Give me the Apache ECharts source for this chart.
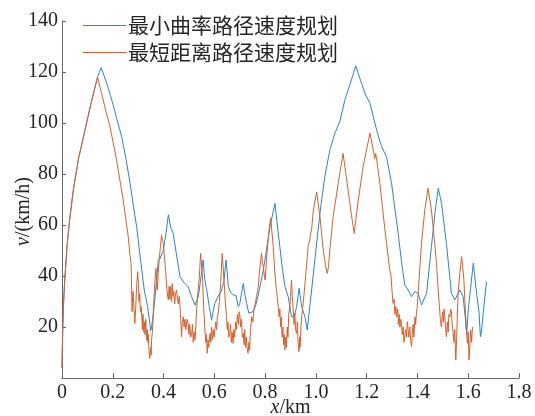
<!DOCTYPE html>
<html>
<head>
<meta charset="utf-8">
<script src="https://cdn.jsdelivr.net/npm/echarts@6/dist/echarts.min.js"></script>
<style>
  html, body { margin: 0; padding: 0; background: #fff; }
  #chart { width: 535px; height: 416px; }
</style>
</head>
<body>
<div id="chart"></div>
<script>
// legend names
const seriesNames = ["最小曲率路径速度规划", "最短距离路径速度规划"];

// x ticks (km)
const xTicks = [0, 0.2, 0.4, 0.6, 0.8, 1.0, 1.2, 1.4, 1.6, 1.8];

// [x km, v km/h]
const minCurvature = [
  [0,4],[0.002,15],[0.005,27],[0.01,37],[0.02,52],[0.03,62],[0.045,74],[0.065,86],[0.09,97],[0.115,108],[0.14,118],
  [0.154,121.7],[0.175,116],[0.196,109],[0.215,102],[0.235,94.6],[0.252,86],[0.268,76.4],[0.282,67],[0.294,59.3],
  [0.311,45],[0.324,34.5],[0.337,28],[0.346,21.5],[0.349,18.5],[0.353,20],[0.36,25.4],[0.373,38.4],[0.379,46.2],
  [0.387,47],[0.399,50],[0.41,57],[0.419,64],[0.428,59],[0.438,56.7],[0.45,49],[0.465,39.7],[0.48,37.5],[0.497,35.8],
  [0.51,32],[0.524,28.6],[0.53,29],[0.537,31.9],[0.548,40],[0.556,46.3],[0.562,39],[0.57,34.5],[0.58,28],[0.589,22.7],
  [0.595,26],[0.602,29.3],[0.615,32],[0.629,34.5],[0.638,38],[0.646,46.3],[0.652,40],[0.655,35.8],[0.665,33.5],
  [0.675,32.5],[0.685,32.5],[0.694,28],[0.7,29],[0.714,37.1],[0.72,33],[0.727,29.3],[0.736,25.4],[0.745,25.8],
  [0.753,26],[0.763,28.5],[0.773,32.5],[0.793,42.4],[0.805,50],[0.819,59.3],[0.839,68.5],[0.848,60],[0.858,51.5],
  [0.868,43],[0.878,35.8],[0.891,31.9],[0.904,24],[0.915,24],[0.924,28],[0.934,35.2],[0.944,28],[0.957,24],
  [0.966,18.8],[0.976,28],[0.996,46.3],[1.016,64.6],[1.035,78.9],[1.055,89.4],[1.075,96],[1.094,100.5],[1.114,109],
  [1.14,116.9],[1.157,122.4],[1.18,115.5],[1.196,111],[1.213,107.7],[1.239,97.3],[1.259,90.7],[1.278,86.8],
  [1.298,76.4],[1.324,56.7],[1.338,45],[1.35,36.5],[1.363,34.5],[1.377,31.9],[1.39,33.9],[1.403,33.2],[1.416,28.6],
  [1.436,33.2],[1.455,51.5],[1.469,64.6],[1.482,74.4],[1.495,68.5],[1.514,52.8],[1.534,33.2],[1.547,30.6],
  [1.567,34.5],[1.58,31.9],[1.588,24],[1.594,17],[1.6,26.7],[1.62,45],[1.633,33.2],[1.643,25.4],[1.648,16.2],
  [1.652,18],[1.659,25.4],[1.672,37.8]
];

const shortestDist = [
  [0,4],[0.002,15],[0.005,27],[0.01,37],[0.02,52],[0.03,62],[0.045,74],[0.065,86],[0.09,97],[0.115,108],[0.14,118],
  [0.156,111.6],[0.172,105],[0.189,98.6],[0.215,85.5],[0.241,69.8],[0.261,55.4],[0.268,48],[0.272,45],[0.274,36],
  [0.276,26],[0.278,32],[0.28,34],[0.283,28],[0.287,21.4],[0.29,27],[0.294,36],[0.298,41.7],[0.301,37],[0.303,30],
  [0.306,33],[0.309,26],[0.312,28],[0.314,24],[0.317,19],[0.319,25],[0.322,18],[0.325,22],[0.327,17],[0.33,23],
  [0.333,15],[0.336,19],[0.338,14],[0.34,17],[0.343,10],[0.346,7.7],[0.349,12],[0.351,9],[0.353,14.9],[0.356,18],
  [0.359,24],[0.362,30.6],[0.366,38],[0.37,43],[0.373,36],[0.375,34.5],[0.379,41],[0.383,46.3],[0.388,52],[0.392,56],
  [0.396,54],[0.399,52.8],[0.404,47],[0.409,41],[0.413,35],[0.416,32],[0.419,30.6],[0.422,36],[0.425,31],[0.428,35.8],
  [0.431,30],[0.434,37],[0.437,32],[0.44,34],[0.444,29],[0.447,33],[0.451,34.5],[0.455,31],[0.458,29],[0.462,32],
  [0.465,28],[0.468,22],[0.471,16.2],[0.474,22],[0.478,24],[0.481,20],[0.484,23],[0.488,19],[0.492,23],[0.497,21.4],
  [0.5,17],[0.503,21],[0.507,16],[0.511,17.5],[0.514,21],[0.517,14],[0.52,18],[0.524,14.9],[0.527,20],[0.53,26.7],
  [0.535,33],[0.541,39.7],[0.546,48.9],[0.55,44],[0.554,38.4],[0.558,28],[0.563,18.8],[0.566,14],[0.569,17],
  [0.572,9.7],[0.575,15],[0.578,12],[0.583,17.5],[0.586,14],[0.589,20],[0.592,15],[0.596,19],[0.599,16],[0.602,18.8],
  [0.606,22],[0.609,19],[0.612,24],[0.615,25.4],[0.62,30],[0.625,37.1],[0.631,48.9],[0.635,43],[0.639,37.1],
  [0.643,30],[0.648,24],[0.651,19],[0.654,22],[0.657,16],[0.661,17.5],[0.664,21],[0.667,14],[0.67,18],[0.674,13.6],
  [0.677,19],[0.68,16],[0.684,22],[0.687,19],[0.691,25],[0.695,21],[0.698,26],[0.701,24],[0.704,20],[0.707,23],
  [0.71,16],[0.714,17.5],[0.717,13],[0.72,19],[0.723,12],[0.726,16],[0.73,11],[0.733,9.7],[0.736,14],[0.739,11],
  [0.742,18],[0.747,24],[0.752,22],[0.756,27],[0.761,29],[0.766,31.9],[0.772,35],[0.778,42],[0.786,48.9],[0.79,45],
  [0.793,43.6],[0.797,40],[0.8,38.4],[0.806,47],[0.812,54.1],[0.818,60],[0.822,62.6],[0.827,57],[0.832,51.5],
  [0.838,42],[0.845,34],[0.852,28],[0.855,24],[0.858,27],[0.861,20],[0.864,24],[0.867,16],[0.87,20],[0.873,13],
  [0.876,17],[0.878,11],[0.881,16],[0.884,12],[0.887,20],[0.89,16],[0.893,25],[0.897,28],[0.9,32],[0.904,38.4],
  [0.907,32],[0.911,26.7],[0.914,21],[0.917,25.4],[0.92,19],[0.924,17.5],[0.927,22],[0.93,14],[0.933,10.3],
  [0.936,16],[0.938,12],[0.941,20],[0.945,25],[0.95,29.3],[0.957,37],[0.963,43.6],[0.97,52],[0.976,54.1],[0.978,56],
  [0.983,58],[0.99,65.9],[1.003,73],[1.016,63.3],[1.029,50.2],[1.038,44],[1.045,41],[1.05,44],[1.055,50.2],
  [1.068,63.3],[1.088,76.4],[1.107,88.1],[1.127,73.7],[1.14,64],[1.151,56.7],[1.167,69.8],[1.186,82.9],[1.213,96],
  [1.226,89.4],[1.232,86],[1.235,88],[1.238,86.8],[1.252,76.4],[1.272,58],[1.291,42.4],[1.296,40],[1.3,34],
  [1.304,29.3],[1.308,31],[1.311,25],[1.315,28],[1.318,24],[1.322,27],[1.325,21],[1.328,25],[1.331,20],[1.334,23],
  [1.337,21.4],[1.34,17],[1.344,20],[1.347,14],[1.35,13.6],[1.353,19],[1.357,16],[1.36,22],[1.363,21.4],[1.366,16],
  [1.37,20],[1.373,15],[1.377,12.3],[1.38,18],[1.383,21],[1.386,16],[1.39,24],[1.393,21],[1.396,25.4],[1.399,28],
  [1.403,33.2],[1.41,44],[1.416,52.8],[1.429,65.9],[1.442,74.4],[1.455,65.9],[1.465,56],[1.475,45],[1.482,34],
  [1.488,26],[1.491,22],[1.495,20],[1.499,26],[1.502,22],[1.505,27],[1.508,24],[1.511,19],[1.514,16.2],[1.518,22],
  [1.521,18],[1.524,25],[1.528,24],[1.531,27],[1.534,26],[1.537,21],[1.541,17.5],[1.544,14],[1.547,19],[1.551,7],
  [1.554,14],[1.557,24],[1.56,33.2],[1.567,41],[1.574,47.6],[1.578,44],[1.583,38.4],[1.587,30],[1.591,22.7],
  [1.594,17],[1.597,13.6],[1.6,18],[1.603,7],[1.606,12],[1.61,18.8],[1.613,14],[1.617,20]
];

const serif = "Liberation Serif";
const axisColor = "#666";
const textColor = "#262626";

const chart = echarts.init(document.getElementById("chart"));
chart.setOption({
  animation: false,
  backgroundColor: "#fff",
  grid: { left: 62, right: 16, top: 21, bottom: 38, containLabel: false, outerBoundsMode: "none" },
  legend: {
    data: seriesNames,
    orient: "vertical",
    left: 83,
    top: 15,
    padding: 0,
    icon: "rect",
    itemWidth: 43,
    itemHeight: 1,
    itemGap: 6,
    textStyle: { fontFamily: "Noto Sans CJK SC", fontSize: 21, color: textColor, padding: [0, 0, 0, -3] }
  },
  xAxis: {
    type: "value",
    min: 0,
    max: 1.8,
    interval: 0.2,
    name: "{i|x}/km",
    nameLocation: "middle",
    nameGap: 20,
    nameMoveOverlap: false,
    nameTextStyle: {
      fontFamily: serif, fontSize: 20, color: textColor,
      rich: { i: { fontFamily: serif, fontSize: 20, fontStyle: "italic", color: textColor } }
    },
    axisLine: { lineStyle: { color: axisColor } },
    axisTick: { inside: true, length: 5, lineStyle: { color: axisColor } },
    axisLabel: {
      margin: 5,
      fontFamily: serif, fontSize: 20, color: textColor,
      formatter: (v) => (v === 0 ? "0" : v.toFixed(1))
    },
    splitLine: { show: false }
  },
  yAxis: {
    type: "value",
    min: 0,
    max: 140,
    interval: 20,
    name: "{i|v}/(km/h)",
    nameLocation: "middle",
    nameGap: 28,
    nameMoveOverlap: false,
    nameTextStyle: {
      fontFamily: serif, fontSize: 20, color: textColor,
      padding: [0, 24, 0, 0],
      rich: { i: { fontFamily: serif, fontSize: 20, fontStyle: "italic", color: textColor } }
    },
    axisLine: { show: true, lineStyle: { color: axisColor } },
    axisTick: { show: true, inside: true, length: 4, lineStyle: { color: axisColor } },
    axisLabel: {
      margin: 4,
      showMinLabel: false,
      fontFamily: serif, fontSize: 20, color: textColor,
      formatter: (v) => (v === 0 ? "" : String(v))
    },
    splitLine: { show: false }
  },
  series: [
    {
      name: seriesNames[0],
      type: "line",
      data: minCurvature,
      symbol: "none",
      lineStyle: { width: 1, color: "#2a86c6" },
      itemStyle: { color: "#2a86c6" }
    },
    {
      name: seriesNames[1],
      type: "line",
      data: shortestDist,
      symbol: "none",
      lineStyle: { width: 1, color: "#d9602a" },
      itemStyle: { color: "#d9602a" }
    }
  ]
});
</script>
</body>
</html>
